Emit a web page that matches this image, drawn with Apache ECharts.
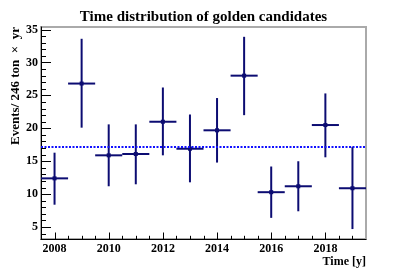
<!DOCTYPE html>
<html><head><meta charset="utf-8">
<script src="https://cdn.jsdelivr.net/npm/echarts@6/dist/echarts.min.js"></script>
<style>html,body{margin:0;padding:0;background:#fff}#c{width:407px;height:270px}</style>
</head><body><div id="c"></div>
<script>
// ---- data ----
const years    = [2008, 2009, 2010, 2011, 2012, 2013, 2014, 2015, 2016, 2017, 2018, 2019];
const events   = [12.4, 26.8, 15.9, 16.1, 21.0, 16.9, 19.7, 28.0, 10.3, 11.2, 20.5, 10.9];
const errUp    = [3.9, 6.8, 4.7, 4.5, 5.2, 5.2, 4.9, 5.9, 3.9, 3.8, 4.8, 6.3];
const errDown  = [4.0, 6.7, 4.7, 4.6, 5.1, 5.1, 4.9, 6.0, 3.9, 3.8, 4.9, 6.2];
const binHalfWidth = 0.5;
const meanRate = 17.16;
const xTickLabels = [2008, 2010, 2012, 2014, 2016, 2018];
const yTickLabels = [5, 10, 15, 20, 25, 30, 35];
const xRange = [2007.5, 2019.5];
const yRange = [3.19, 35.39];

// tick marks (primary + secondary divisions)
const xTicks = [];
for (let v = xRange[0] + 0.5; v < xRange[1]; v += 0.5) xTicks.push([v, yRange[0], xTickLabels.includes(v) ? 1 : 0]);
const yTicks = [];
for (let v = Math.ceil(yRange[0]); v < yRange[1]; v += 1) yTicks.push([xRange[0], v, yTickLabels.includes(v) ? 1 : 0]);

const FONT = '"Liberation Serif", "DejaVu Serif", serif';
const NAVY = '#0c0c72';

const chart = echarts.init(document.getElementById('c'));
chart.setOption({
  animation: false,
  backgroundColor: '#fff',
  title: {
    text: 'Time distribution of golden candidates',
    left: 'center', top: 5,
    textStyle: { fontFamily: FONT, fontWeight: 'bold', fontSize: 15, color: '#000' }
  },
  grid: { left: 41, right: 41, top: 27, bottom: 31, show: true, borderColor: '#aaaaaa', borderWidth: 2, backgroundColor: 'transparent' },
  xAxis: {
    type: 'value', min: xRange[0], max: xRange[1],
    axisLine: { show: true, lineStyle: { color: '#000', width: 1 } },
    axisTick: { show: false },
    splitLine: { show: false },
    axisLabel: {
      margin: 4, fontFamily: FONT, fontWeight: 'bold', fontSize: 12, color: '#000',
      formatter: v => xTickLabels.includes(Math.round(v * 1000) / 1000) ? String(v) : ''
    }
  },
  yAxis: {
    type: 'value', min: yRange[0], max: yRange[1],
    axisLine: { show: true, lineStyle: { color: '#000', width: 1 } },
    axisTick: { show: false },
    splitLine: { show: false },
    axisLabel: {
      margin: 3, fontFamily: FONT, fontWeight: 'bold', fontSize: 12, color: '#000',
      formatter: v => yTickLabels.includes(Math.round(v * 1000) / 1000) ? String(v) : ''
    }
  },
  graphic: [
    { type: 'text', x: 16, y: 27, rotation: Math.PI / 2,
      style: { text: 'Events/ 246 ton  \u00d7  yr', align: 'right', verticalAlign: 'middle',
               font: 'bold 13px ' + FONT, fill: '#000' } },
    { type: 'text', x: 366, y: 262,
      style: { text: 'Time [y]', align: 'right', verticalAlign: 'middle',
               font: 'bold 12px ' + FONT, fill: '#000' } }
  ],
  series: [
    {
      type: 'custom', name: 'xticks', silent: true, clip: false,
      data: xTicks,
      renderItem(params, api) {
        const p = api.coord([api.value(0), api.value(1)]);
        const len = api.value(2) ? 6.5 : 3.2;
        const x = Math.round(p[0]) + 0.5;
        return { type: 'line', shape: { x1: x, y1: p[1], x2: x, y2: p[1] - len }, style: { stroke: '#000', lineWidth: 1 } };
      }
    },
    {
      type: 'custom', name: 'yticks', silent: true, clip: false,
      data: yTicks,
      renderItem(params, api) {
        const p = api.coord([api.value(0), api.value(1)]);
        const len = api.value(2) ? 10 : 5;
        const y = Math.round(p[1]) + 0.5;
        return { type: 'line', shape: { x1: p[0], y1: y, x2: p[0] + len, y2: y }, style: { stroke: '#000', lineWidth: 1 } };
      }
    },
    {
      type: 'custom', name: 'data', clip: false,
      data: years.map((y, i) => [y, events[i], events[i] - errDown[i], events[i] + errUp[i]]),
      renderItem(params, api) {
        const x = api.value(0), v = api.value(1);
        const c = api.coord([x, v]);
        const l = api.coord([x - binHalfWidth, v]);
        const r = api.coord([x + binHalfWidth, v]);
        const lo = api.coord([x, api.value(2)]);
        const hi = api.coord([x, api.value(3)]);
        const st = { stroke: NAVY, lineWidth: 2 };
        return { type: 'group', children: [
          { type: 'line', shape: { x1: l[0], y1: c[1], x2: r[0], y2: c[1] }, style: st },
          { type: 'line', shape: { x1: c[0], y1: lo[1], x2: c[0], y2: hi[1] }, style: st },
          { type: 'rect', shape: { x: c[0] - 2, y: c[1] - 2, width: 4, height: 4 }, style: { fill: NAVY } }
        ]};
      },
      markLine: {
        silent: true, symbol: 'none', label: { show: false },
        lineStyle: { color: '#1010ff', width: 2, type: [2, 1.5] },
        data: [{ yAxis: meanRate }]
      }
    }
  ]
});
</script>
</body></html>
